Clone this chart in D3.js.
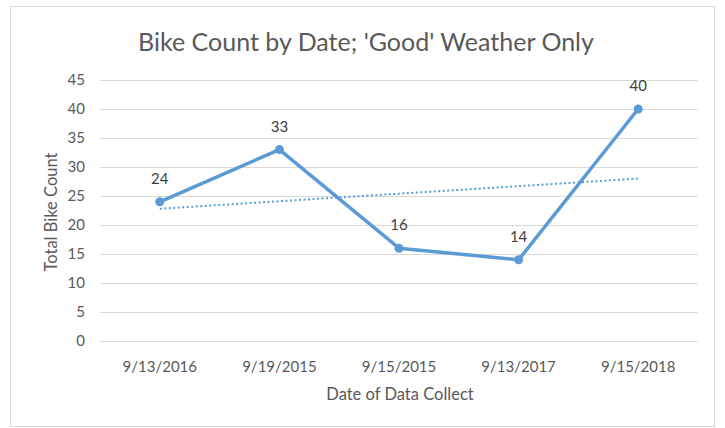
<!DOCTYPE html>
<html>
<head>
<meta charset="utf-8">
<script src="https://cdn.jsdelivr.net/npm/d3@7"></script>
<style>
  body { margin: 0; background: #fff; }
  text { font-family: Lato, "Open Sans", sans-serif; fill: #595959; }
</style>
</head>
<body>
<svg id="chart"></svg>
<script>
var width = 725, height = 428;

var dates = ["9/13/2016", "9/19/2015", "9/15/2015", "9/13/2017", "9/15/2018"];
var counts = [24, 33, 16, 14, 40];
var yTicks = [0, 5, 10, 15, 20, 25, 30, 35, 40, 45];

var svg = d3.select("#chart")
    .attr("width", width)
    .attr("height", height);

// chart frame
svg.append("rect")
    .attr("x", 10.5).attr("y", 6.5)
    .attr("width", 704).attr("height", 420)
    .attr("fill", "#fff")
    .attr("stroke", "#d9d9d9");

var x = d3.scaleBand().domain(dates).range([100, 698]);
var y = d3.scaleLinear().domain([0, 45]).range([341, 80]);

// gridlines
svg.append("g")
    .selectAll("line")
    .data(yTicks)
    .enter()
    .append("line")
    .attr("x1", 100).attr("x2", 698)
    .attr("y1", d => y(d) + 0.5).attr("y2", d => y(d) + 0.5)
    .attr("stroke", "#d9d9d9")
    .attr("stroke-width", 1);

// y tick labels
svg.append("g")
    .selectAll("text")
    .data(yTicks)
    .enter()
    .append("text")
    .attr("x", 85)
    .attr("y", d => y(d))
    .attr("dy", "0.35em")
    .attr("text-anchor", "end")
    .style("font-size", "15px")
    .text(d => d);

// x tick labels
svg.append("g")
    .selectAll("text")
    .data(dates)
    .enter()
    .append("text")
    .attr("x", d => x(d) + x.bandwidth() / 2)
    .attr("y", 372)
    .attr("text-anchor", "middle")
    .style("font-size", "15px")
    .text(d => d);

// trendline (linear least squares over category index)
var mx = d3.mean(counts, (d, i) => i);
var my = d3.mean(counts);
var slope = d3.sum(counts, (d, i) => (i - mx) * (d - my)) / d3.sum(counts, (d, i) => (i - mx) * (i - mx));
var trend = counts.map((d, i) => my + slope * (i - mx));

var cx = (d, i) => x(dates[i]) + x.bandwidth() / 2;

svg.append("path")
    .datum(trend)
    .attr("d", d3.line().x(cx).y(d => y(d)))
    .attr("fill", "none")
    .attr("stroke", "#5b9bd5")
    .attr("stroke-width", 2)
    .attr("stroke-dasharray", "2 2.5");

// main line
svg.append("path")
    .datum(counts)
    .attr("d", d3.line().x(cx).y(d => y(d)))
    .attr("fill", "none")
    .attr("stroke", "#5b9bd5")
    .attr("stroke-width", 3.5)
    .attr("stroke-linejoin", "round");

svg.append("g")
    .selectAll("circle")
    .data(counts)
    .enter()
    .append("circle")
    .attr("cx", cx)
    .attr("cy", d => y(d))
    .attr("r", 4.5)
    .attr("fill", "#5b9bd5");

// data labels
svg.append("g")
    .selectAll("text")
    .data(counts)
    .enter()
    .append("text")
    .attr("x", cx)
    .attr("y", d => y(d) - 18)
    .attr("text-anchor", "middle")
    .style("font-size", "15px")
    .style("fill", "#404040")
    .text(d => d);

// title
svg.append("text")
    .attr("x", 366)
    .attr("y", 51)
    .attr("text-anchor", "middle")
    .style("font-size", "25px")
    .text("Bike Count by Date; 'Good' Weather Only");

// axis titles
svg.append("text")
    .attr("x", 400)
    .attr("y", 400)
    .attr("text-anchor", "middle")
    .style("font-size", "16.5px")
    .text("Date of Data Collect");

svg.append("text")
    .attr("transform", "translate(57,212) rotate(-90)")
    .attr("text-anchor", "middle")
    .style("font-size", "16.5px")
    .text("Total Bike Count");
</script>
</body>
</html>
